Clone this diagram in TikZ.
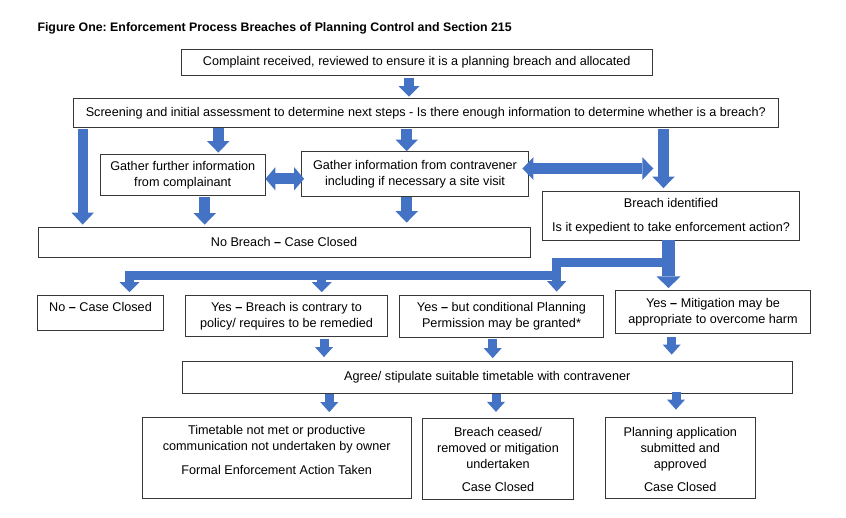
\documentclass[tikz,border=0pt]{standalone}
\usepackage{fontspec}
\setmainfont{Liberation Sans}
\usetikzlibrary{arrows.meta,calc}
\definecolor{ablue}{RGB}{68,114,196}
\definecolor{bline}{RGB}{55,55,55}
\frenchspacing
\newcommand\myfont{\fontsize{12.65}{16}\selectfont}
\newcommand\mytitlefont{\fontsize{12.35}{15}\selectfont\bfseries}
\newcommand\bdash{\textbf{–}}
\newcommand\mkbox[6]{\node[box, minimum width={(#4)-(#2)}, minimum height={(#5)-(#3)}] (#1) at ({((#2)+(#4))/2},{((#3)+(#5))/2}) {#6};}
\begin{document}
\begin{tikzpicture}[x=1pt,y=-1pt,
  box/.style={draw=bline, line width=0.8pt, inner sep=0pt, align=center, font=\myfont},
  txt/.style={inner sep=0pt, align=center, font=\myfont},
  blk/.style n args={3}{ablue, line width=#1, line join=miter, -{Triangle[width=#2,length=#3,line width=0pt]}},
  dblk/.style n args={3}{ablue, line width=#1, {Triangle[width=#2,length=#3,line width=0pt]}-{Triangle[width=#2,length=#3,line width=0pt]}},
  bigarr/.style={blk={10.5pt}{22.5pt}{11.5pt}},
  smallarr/.style={blk={9pt}{18pt}{10pt}}]
\useasboundingbox (0,0) rectangle (846,517);
\fill[white] (0,0) rectangle (846,517);

\node[anchor=base west, font=\mytitlefont, inner sep=0pt] (title) at (37.3,31.5) {Figure One: Enforcement Process Breaches of Planning Control and Section 215};

\mkbox{b1}{181}{49.5}{652.5}{75}{Complaint received, reviewed to ensure it is a planning breach and allocated}
\mkbox{b2}{73}{98.5}{778.5}{127.5}{Screening and initial assessment to determine next steps - Is there enough information to determine whether is a breach?}
\mkbox{b3}{100}{154}{265.5}{195.5}{Gather further information\\from complainant}
\mkbox{b4}{301.5}{151.5}{528.5}{196}{Gather information from contravener\\including if necessary a site visit}
\mkbox{b5}{38}{227.5}{530}{257}{No Breach \bdash{} Case Closed}
\mkbox{b6}{542.5}{191.5}{799.5}{240}{Breach identified\\[8pt]Is it expedient to take enforcement action?}
\mkbox{b7}{37.5}{295.5}{163.5}{330}{}
\mkbox{b8}{185.5}{295.5}{387.5}{336.5}{Yes \bdash{} Breach is contrary to\\policy/ requires to be remedied}
\mkbox{b9}{399.5}{295.5}{603.5}{337.5}{Yes \bdash{} but conditional Planning\\Permission may be granted*}
\mkbox{b10}{615.5}{290.5}{810.5}{333.5}{Yes \bdash{} Mitigation may be\\appropriate to overcome harm}
\mkbox{b11}{182.5}{361.5}{792}{393}{Agree/ stipulate suitable timetable with contravener}
\mkbox{b12}{142.5}{417.5}{411}{498.5}{}
\mkbox{b13}{422.5}{418}{573.5}{499}{}
\mkbox{b14}{605}{417.5}{755.5}{498.5}{}

\node[txt, anchor=north] (t7) at ($(b7.north)+(0,7.2)$) {No \bdash{} Case Closed};
\node[txt, anchor=north] (t12) at ($(b12.north)+(0,7.9)$) {Timetable not met or productive\\communication not undertaken by owner\\[8pt]Formal Enforcement Action Taken};
\node[txt, anchor=north] (t13) at ($(b13.north)+(0,9.1)$) {Breach ceased/\\removed or mitigation\\undertaken\\[7.5pt]Case Closed};
\node[txt, anchor=north] (t14) at ($(b14.north)+(0,9.6)$) {Planning application\\submitted and\\approved\\[7.5pt]Case Closed};

% column coordinates
\coordinate (xA1) at (409,0);
\coordinate (xA2) at (82.7,0);
\coordinate (xA3) at (218.3,0);
\coordinate (xA4) at (406.7,0);
\coordinate (xA5) at (663.5,0);
\coordinate (xA6) at (204.7,0);
\coordinate (xA8) at (668.5,0);
\coordinate (xBr) at (556.7,0);
\coordinate (xL1) at (129.5,0);
\coordinate (xL2) at (321.7,0);
\coordinate (xA9) at (324,0);
\coordinate (xA10) at (492.7,0);
\coordinate (xA11) at (671.7,0);
\coordinate (xA12) at (329.3,0);
\coordinate (xA13) at (496,0);
\coordinate (xA14) at (676,0);
\coordinate (yD1) at (0,178.8);
\coordinate (yD2) at (0,168.5);
\coordinate (d2end) at (653.3,168.5);

% top section arrows
\draw[blk={9.5pt}{21pt}{10.5pt}] ([yshift=-3pt]b1.south -| xA1) -- ([yshift=1.5pt]b2.north -| xA1);
\draw[blk={10pt}{22.6pt}{12pt}] ([yshift=-1.5pt]b2.south -| xA2) -- ([yshift=2.5pt]b5.north -| xA2);
\draw[bigarr] ([yshift=-0.5pt]b2.south -| xA3) -- ([yshift=1pt]b3.north -| xA3);
\draw[bigarr] ([yshift=-1.5pt]b2.south -| xA4) -- (b4.north -| xA4);
\draw[blk={11.3pt}{22.5pt}{11.6pt}] ([yshift=-1.5pt]b2.south -| xA5) -- ([yshift=3pt]b6.north -| xA5);
\draw[bigarr] ([yshift=-1.2pt]b3.south -| xA6) -- ([yshift=2.5pt]b5.north -| xA6);
\draw[bigarr] ([yshift=-1pt]b4.south -| xA4) -- ([yshift=4.5pt]b5.north -| xA4);
\draw[dblk={11pt}{23.3pt}{10pt}] ([xshift=-0.5pt]b3.east |- yD1) -- ([xshift=3pt]b4.west |- yD1);
\draw[dblk={11.6pt}{22.7pt}{11pt}] ([xshift=-6.5pt]b4.east |- yD2) -- (d2end);

% branching from Breach identified
\coordinate (j1) at ($(b6.south -| xA8)+(0,22.5)$);
\coordinate (j2) at (j1 -| xBr);
\coordinate (j3) at ($(j2)+(0,12.5)$);
\draw[blk={8.5pt}{20pt}{10pt}] (j3) -- (j3 -| xL1) -- ([yshift=3pt]b7.north -| xL1);
\draw[blk={9.5pt}{20pt}{10pt}] (j3 -| xL2) -- ([yshift=3pt]b8.north -| xL2);
\draw[blk={9pt}{19.3pt}{10.5pt}] (j1) -- (j2) -- ([yshift=3.5pt]b9.north -| xBr);
\draw[blk={12.5pt}{24pt}{11.7pt}] (b6.south -| xA8) -- ([yshift=2pt]b10.north -| xA8);

% lower arrows
\draw[smallarr] ([yshift=-2.5pt]b8.south -| xA9) -- ([yshift=4pt]b11.north -| xA9);
\draw[smallarr] ([yshift=-1.5pt]b9.south -| xA10) -- ([yshift=3pt]b11.north -| xA10);
\draw[smallarr] ([yshift=-3.2pt]b10.south -| xA11) -- ([yshift=6.5pt]b11.north -| xA11);
\draw[smallarr] ([yshift=-1pt]b11.south -| xA12) -- ([yshift=5pt]b12.north -| xA12);
\draw[smallarr] ([yshift=-1pt]b11.south -| xA13) -- ([yshift=5.7pt]b13.north -| xA13);
\draw[smallarr] ([yshift=1.3pt]b11.south -| xA14) -- ([yshift=7.5pt]b14.north -| xA14);
\end{tikzpicture}
\end{document}
